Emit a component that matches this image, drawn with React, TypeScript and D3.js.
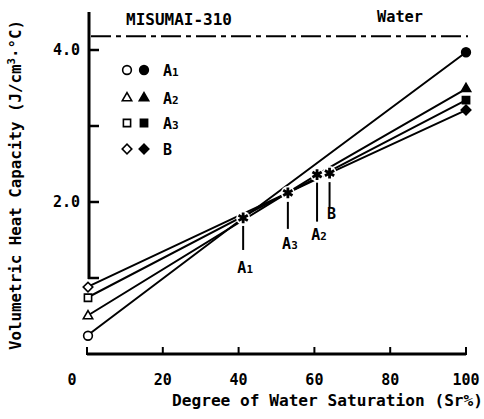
import React from "react";
import * as d3 from "d3";

// Specimens and their measured heat capacities (J/cm³·°C)
const specimens = ["A1", "A2", "A3", "B"];
const drySr = [0, 0, 0, 0];
const dryValues = [0.24, 0.5, 0.74, 0.88];
const optimumSr = [41.2, 60.7, 53.0, 64.0];
const optimumValues = [1.79, 2.36, 2.12, 2.38];
const saturatedSr = [100, 100, 100, 100];
const saturatedValues = [3.97, 3.49, 3.34, 3.21];
const symbolKinds = ["circle", "triangle", "square", "diamond"];

const waterCapacity = 4.18;
const xTicks = [0, 20, 40, 60, 80, 100];
const yTicks = [1, 2, 3, 4];
const yTickLabels = [2, 4];

const W = 484;
const H = 419;
const FONT = "'DejaVu Sans Mono', 'Liberation Mono', monospace";

const x = d3.scaleLinear().domain([0, 100]).range([87, 466]);
const y = d3.scaleLinear().domain([0, 4.5]).range([354, 12]);

function symbolPath(kind: string) {
  if (kind === "circle") return d3.symbol().type(d3.symbolCircle).size(60)() as string;
  if (kind === "triangle") return d3.symbol().type(d3.symbolTriangle).size(38)() as string;
  // square and diamond share one square shape; the diamond is rotated
  return d3.symbol().type(d3.symbolSquare).size(kind === "square" ? 52 : 46)() as string;
}

function Marker({ kind, cx, cy, filled }: { kind: string; cx: number; cy: number; filled: boolean }) {
  const rot = kind === "diamond" ? " rotate(45)" : "";
  return (
    <path
      d={symbolPath(kind)}
      transform={`translate(${cx},${cy})${rot}`}
      fill={filled ? "#000" : "#fff"}
      stroke="#000"
      strokeWidth={1.6}
    />
  );
}

function Sub({ main, sub, x0, y0, size }: { main: string; sub: string; x0: number; y0: number; size: number }) {
  return (
    <text x={x0} y={y0} fontFamily={FONT} fontSize={size} fontWeight="bold" textAnchor="middle">
      {main}
      <tspan fontSize={size * 0.72}>{sub}</tspan>
    </text>
  );
}

export default function App() {
  const line = d3
    .line<[number, number]>()
    .x((d) => x(d[0]))
    .y((d) => y(d[1]));
  const star = d3.symbol().type(d3.symbolAsterisk).size(80)() as string;

  // Leader lines below each optimum point
  const leaders: { [k: string]: { top: number; bottom: number; ly: number; lx: number } } = {
    A1: { top: 8, bottom: 32, ly: 55, lx: 0 },
    A3: { top: 9, bottom: 36, ly: 56, lx: 0 },
    A2: { top: 8, bottom: 47, ly: 65, lx: 0 },
    B: { top: 9, bottom: 34, ly: 46, lx: 2 },
  };

  return (
    <svg width={W} height={H} style={{ position: "absolute", left: 0, top: 0 }}>
      <rect width={W} height={H} fill="#fff" />

      {/* water reference line */}
      <line
        x1={91}
        x2={468}
        y1={y(waterCapacity)}
        y2={y(waterCapacity)}
        stroke="#000"
        strokeWidth={2}
        strokeDasharray="20 5 5 5"
      />
      <text x={126} y={25} fontFamily={FONT} fontSize={15} fontWeight="bold" textLength={106} lengthAdjust="spacingAndGlyphs">
        MISUMAI-310
      </text>
      <text x={377} y={22} fontFamily={FONT} fontSize={15} fontWeight="bold" textLength={46} lengthAdjust="spacingAndGlyphs">
        Water
      </text>

      {/* specimen lines: dry -> optimum -> saturated */}
      {specimens.map((s, i) => (
        <path
          key={s}
          d={
            line([
              [drySr[i], dryValues[i]],
              [optimumSr[i], optimumValues[i]],
              [saturatedSr[i], saturatedValues[i]],
            ]) as string
          }
          fill="none"
          stroke="#000"
          strokeWidth={2}
        />
      ))}

      {/* optimum points with clearing halo */}
      {specimens.map((s, i) => (
        <circle key={s + "h"} cx={x(optimumSr[i])} cy={y(optimumValues[i])} r={7} fill="#fff" />
      ))}
      {specimens.map((s, i) => {
        const cx = x(optimumSr[i]);
        const cy = y(optimumValues[i]);
        const L = leaders[s];
        return (
          <g key={s + "s"}>
            <path d={star} transform={`translate(${cx},${cy})`} fill="none" stroke="#000" strokeWidth={2.8} />
            <line x1={cx} x2={cx} y1={cy + L.top} y2={cy + L.bottom} stroke="#000" strokeWidth={2} />
            <Sub main={s[0]} sub={s.slice(1)} x0={cx + L.lx + (s.length > 1 ? 2 : 0)} y0={cy + L.ly} size={15} />
          </g>
        );
      })}

      {/* dry and saturated markers */}
      {specimens.map((s, i) => (
        <g key={s + "m"}>
          <Marker kind={symbolKinds[i]} cx={x(drySr[i]) + 1} cy={y(dryValues[i])} filled={false} />
          <Marker kind={symbolKinds[i]} cx={x(saturatedSr[i])} cy={y(saturatedValues[i])} filled={true} />
        </g>
      ))}

      {/* y axis */}
      <line x1={89} x2={89} y1={y(1) + 1} y2={12} stroke="#000" strokeWidth={3} />
      {yTicks.map((t) => (
        <line key={t} x1={88} x2={99} y1={y(t)} y2={y(t)} stroke="#000" strokeWidth={2.5} />
      ))}
      {yTickLabels.map((t) => (
        <text
          key={t}
          x={80}
          y={y(t) + 5}
          textAnchor="end"
          fontFamily={FONT}
          fontSize={15}
          fontWeight="bold"
        >
          {d3.format(".1f")(t)}
        </text>
      ))}

      {/* x axis */}
      <line x1={x(0)} x2={x(100)} y1={y(0)} y2={y(0)} stroke="#000" strokeWidth={3} />
      {xTicks.map((t) => (
        <line key={t} x1={x(t)} x2={x(t)} y1={y(0) + 1} y2={y(0) - 7} stroke="#000" strokeWidth={2} />
      ))}
      {xTicks.map((t) => (
        <text
          key={t}
          x={t === 0 ? x(t) - 15 : x(t)}
          y={385}
          textAnchor="middle"
          fontFamily={FONT}
          fontSize={15}
          fontWeight="bold"
        >
          {t}
        </text>
      ))}

      {/* axis titles */}
      <text x={172} y={406} fontFamily={FONT} fontSize={15} fontWeight="bold" textLength={311} lengthAdjust="spacingAndGlyphs">
        Degree of Water Saturation (Sr%)
      </text>
      <text
        transform="translate(21,185) rotate(-90)"
        textAnchor="middle"
        fontFamily={FONT}
        fontSize={15}
        fontWeight="bold"
        textLength={330}
        lengthAdjust="spacingAndGlyphs"
      >
        Volumetric Heat Capacity (J/cm
        <tspan fontSize={10} dy={-6}>3</tspan>
        <tspan dy={6}>·°C)</tspan>
      </text>

      {/* legend */}
      {specimens.map((s, i) => {
        const ly = [70, 98, 123, 149][i];
        return (
          <g key={s + "l"}>
            <Marker kind={symbolKinds[i]} cx={127} cy={ly} filled={false} />
            <Marker kind={symbolKinds[i]} cx={144} cy={ly} filled={true} />
            <text x={163} y={ly + 6} fontFamily={FONT} fontSize={15} fontWeight="bold">
              {s[0]}
              <tspan fontSize={11}>{s.slice(1)}</tspan>
            </text>
          </g>
        );
      })}
    </svg>
  );
}
